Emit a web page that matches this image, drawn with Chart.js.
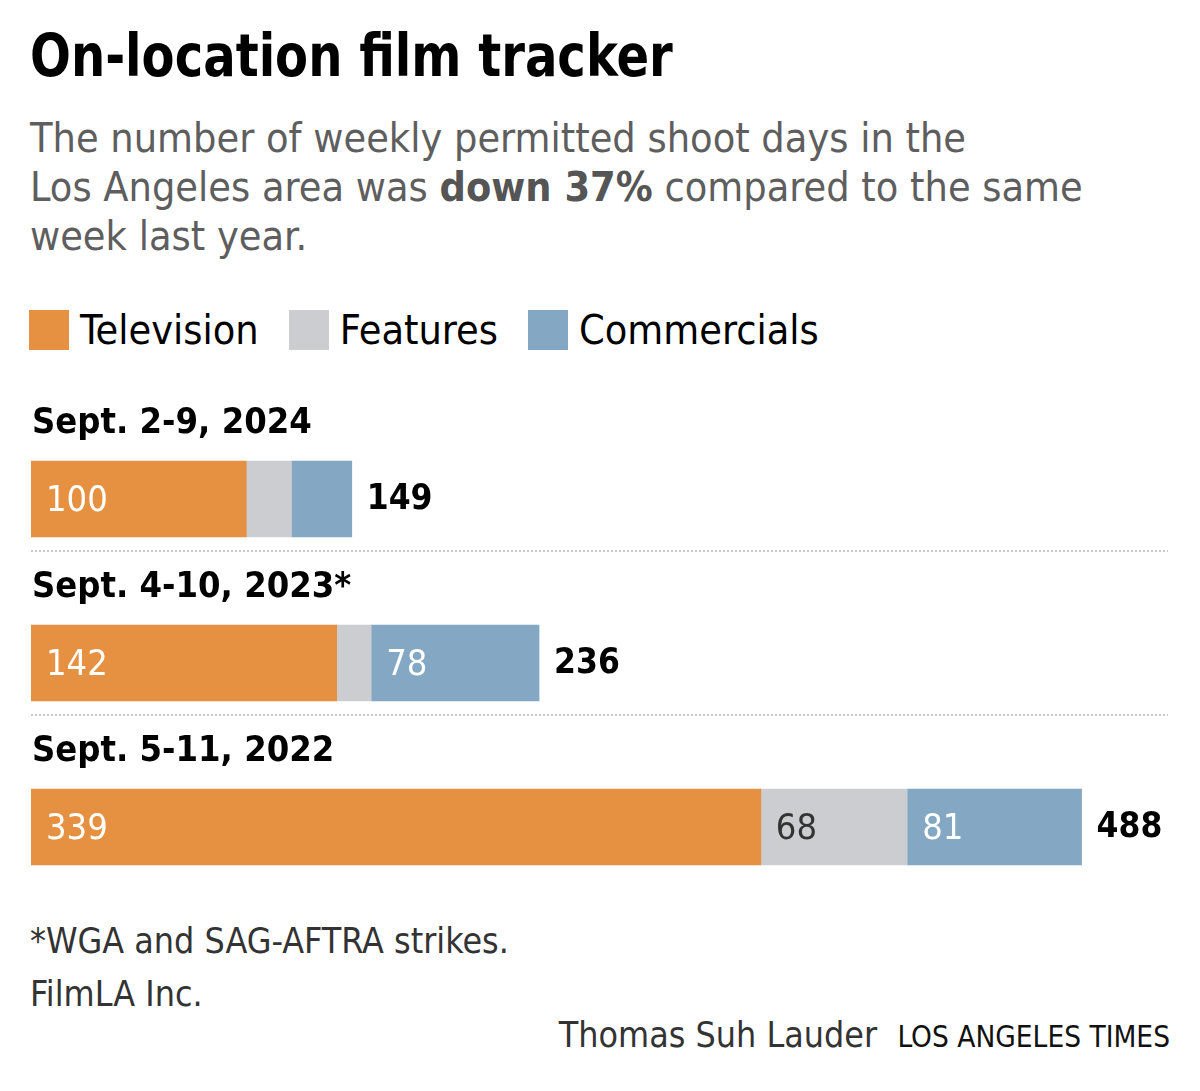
<!DOCTYPE html>
<html>
<head>
<meta charset="utf-8">
<script src="https://cdn.jsdelivr.net/npm/chart.js@4.4.0/dist/chart.umd.min.js"></script>
<style>
  body { margin: 0; background: #fff; font-family: "Liberation Sans Narrow", "DejaVu Sans Condensed", sans-serif; }
  #wrap { position: relative; width: 1200px; height: 1091px; overflow: hidden; }
  .abs { position: absolute; white-space: nowrap; }
  h1 { margin: 0; font-size: 58px; font-weight: bold; color: #000; left: 30px; top: 22px; transform: scaleX(0.922); transform-origin: left center; }
  #sub { left: 30px; top: 114px; font-size: 41px; line-height: 49px; color: #5e5e5e; }
  #sub b { color: #555; }
  #legend { left: 29px; top: 306px; font-size: 41px; color: #000; display: flex; align-items: center; }
  #legend span.sw { display: inline-block; width: 40px; height: 40px; margin-right: 11px; }
  #legend span.lab { margin-right: 30px; }
  #chartBox { left: 0; top: 380px; width: 1200px; height: 530px; }
  .foot { font-size: 35.5px; color: #333; }
</style>
</head>
<body>
<div id="wrap">
  <h1 class="abs">On-location film tracker</h1>
  <div id="sub" class="abs">The number of weekly permitted shoot days in the<br>Los Angeles area was <b>down 37%</b> compared to the same<br>week last year.</div>
  <div id="legend" class="abs"></div>
  <div id="chartBox" class="abs"><canvas id="c" width="1200" height="530"></canvas></div>
  <div class="abs foot" style="left:30px; top:920px;">*WGA and SAG-AFTRA strikes.</div>
  <div class="abs foot" style="left:30px; top:973px;">FilmLA Inc.</div>
  <div class="abs foot" style="right:30px; top:1014px;">Thomas Suh Lauder&nbsp; <span style="font-size:29.5px; color:#111;">LOS ANGELES TIMES</span></div>
</div>
<script>
// data
const weeks = ['Sept. 2-9, 2024', 'Sept. 4-10, 2023*', 'Sept. 5-11, 2022'];
const television = [100, 142, 339];
const features = [21, 16, 68];
const commercials = [28, 78, 81];
const totals = [149, 236, 488];

const seriesNames = ['Television', 'Features', 'Commercials'];
const colors = ['#e69142', '#cccdd1', '#84a8c3'];
const valueColors = ['#fff', '#333', '#fff'];

// legend
const legend = document.getElementById('legend');
seriesNames.forEach((name, i) => {
  legend.innerHTML += '<span class="sw" style="background:' + colors[i] + '"></span><span class="lab">' + name + '</span>';
});

const FONT = '"Liberation Sans Narrow", "DejaVu Sans Condensed", sans-serif';

// labels above bars, totals, inner values and dotted separators
const annotate = {
  id: 'annotate',
  afterDatasetsDraw(chart) {
    const ctx = chart.ctx;
    const yScale = chart.scales.y;
    const xScale = chart.scales.x;
    ctx.save();
    weeks.forEach((w, i) => {
      const yc = yScale.getPixelForValue(i);
      // week label
      ctx.fillStyle = '#000';
      ctx.font = 'bold 36px ' + FONT;
      ctx.textBaseline = 'middle';
      ctx.textAlign = 'left';
      ctx.fillText(w, 32, yc - 75);
      // total
      ctx.font = 'bold 35px ' + FONT;
      ctx.fillText(String(totals[i]), xScale.getPixelForValue(totals[i]) + 15, yc + 1);
      // separator
      if (i < weeks.length - 1) {
        ctx.strokeStyle = '#c8c8c8';
        ctx.lineWidth = 2;
        ctx.setLineDash([2, 2]);
        ctx.beginPath();
        ctx.moveTo(31, yc + 52);
        ctx.lineTo(1168, yc + 52);
        ctx.stroke();
        ctx.setLineDash([]);
      }
    });
    // inner values
    ctx.font = '36px ' + FONT;
    chart.data.datasets.forEach((ds, di) => {
      chart.getDatasetMeta(di).data.forEach((bar, i) => {
        const v = ds.data[i];
        if (v < 40) return;
        ctx.fillStyle = valueColors[di];
        ctx.fillText(String(v), bar.base + 15, bar.y + 3);
      });
    });
    ctx.restore();
  }
};

new Chart(document.getElementById('c').getContext('2d'), {
  type: 'bar',
  data: {
    labels: weeks,
    datasets: [
      { label: seriesNames[0], data: television, backgroundColor: colors[0] },
      { label: seriesNames[1], data: features, backgroundColor: colors[1] },
      { label: seriesNames[2], data: commercials, backgroundColor: colors[2] }
    ]
  },
  options: {
    indexAxis: 'y',
    responsive: false,
    animation: false,
    layout: { padding: { left: 31, right: 28, top: 37, bottom: 1 } },
    datasets: { bar: { barThickness: 76, borderWidth: 0 } },
    scales: {
      x: { stacked: true, min: 0, max: 530, display: false },
      y: { stacked: true, display: false }
    },
    plugins: { legend: { display: false }, tooltip: { enabled: false } }
  },
  plugins: [annotate]
});
</script>
</body>
</html>
